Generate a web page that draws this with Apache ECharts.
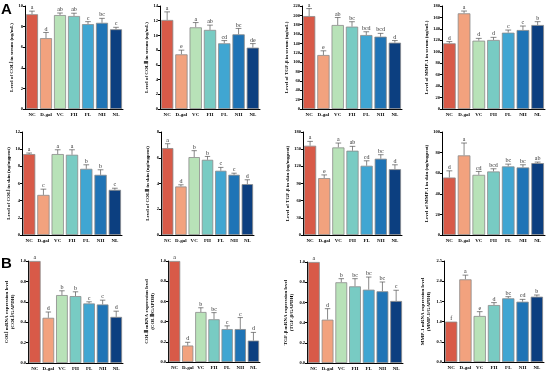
<!DOCTYPE html>
<html><head><meta charset="utf-8">
<script src="https://cdn.jsdelivr.net/npm/echarts@6/dist/echarts.min.js"></script>
<style>html,body{margin:0;padding:0;background:#fff}#c{width:550px;height:374px}</style>
</head><body><div id="c"></div>
<script>
const categories = ['NC','D-gal','VC','FH','FL','NH','NL'];
const barColors = ['#d85a48','#f2a27e','#b8e2b8','#78cbc3','#40a6d2','#1f74b6','#0c3f80'];

// Row A1: serum
const colISerum = [9.2, 6.88, 9.12, 9.03, 8.24, 8.37, 7.74];
const colISerumErr = [0.3, 0.55, 0.2, 0.27, 0.24, 0.43, 0.19];
const colISerumSig = ['a','d','ab','ab','c','bc','c'];

const colIIISerum = [12.1, 7.43, 11.1, 10.75, 8.93, 10.15, 8.34];
const colIIISerumErr = [1.1, 0.57, 0.65, 0.65, 0.37, 0.8, 0.55];
const colIIISerumSig = ['a','e','a','ab','cd','bc','de'];

const tgfSerum = [198.5, 115.3, 179.4, 175.9, 158, 154.5, 141.7];
const tgfSerumErr = [16, 9, 16, 10.5, 7, 7, 4.5];
const tgfSerumSig = ['a','e','ab','bc','bcd','bcd','d'];

const mmpSerum = [114.8, 167.2, 119.4, 120.6, 133.4, 138, 146.8];
const mmpSerumErr = [3, 4, 4, 4.6, 4.6, 7, 5.8];
const mmpSerumSig = ['d','a','d','d','c','c','b'];

// Row A2: skin
const colISkin = [9.43, 4.67, 9.43, 9.35, 7.71, 7.01, 5.26];
const colISkinErr = [0.12, 0.67, 0.5, 0.58, 0.47, 0.59, 0.19];
const colISkinSig = ['a','c','a','a','b','b','c'];

const colIIISkin = [6.75, 3.77, 6.05, 5.84, 4.99, 4.68, 3.95];
const colIIISkinErr = [0.34, 0.13, 0.5, 0.26, 0.26, 0.12, 0.34];
const colIIISkinSig = ['a','d','b','b','c','c','d'];

const tgfSkin = [156, 99.4, 153, 147.3, 121, 133.3, 115];
const tgfSkinErr = [7.6, 5.6, 7.7, 7.6, 8.7, 7, 7.7];
const tgfSkinSig = ['a','e','a','ab','cd','bc','d'];

const mmpSkin = [55.8, 77.3, 58.4, 61.7, 66.6, 65.6, 69.8];
const mmpSkinErr = [6.5, 12, 3.3, 2.6, 2.2, 2.6, 1];
const mmpSkinSig = ['d','a','cd','bcd','bc','bc','ab'];

// Row B: mRNA
const colIMrna = [1.0, 0.443, 0.666, 0.656, 0.584, 0.574, 0.452];
const colIMrnaErr = [0, 0.057, 0.042, 0.042, 0.016, 0.042, 0.056];
const colIMrnaSig = ['a','d','b','b','c','c','d'];

const colIIIMrna = [1.0, 0.163, 0.495, 0.423, 0.326, 0.326, 0.212];
const colIIIMrnaErr = [0, 0.032, 0.042, 0.066, 0.032, 0.114, 0.081];
const colIIIMrnaSig = ['a','d','b','bc','c','c','d'];

const tgfMrna = [1.0, 0.429, 0.799, 0.759, 0.726, 0.71, 0.614];
const tgfMrnaErr = [0, 0.109, 0.036, 0.076, 0.125, 0.092, 0.106];
const tgfMrnaSig = ['a','d','b','bc','bc','bc','c'];

const mmpMrna = [1.0, 2.046, 1.139, 1.41, 1.576, 1.493, 1.617];
const mmpMrnaErr = [0, 0.104, 0.107, 0.06, 0.041, 0.057, 0.041];
const mmpMrnaSig = ['f','a','e','d','bc','cd','b'];

const yNames = [
 'Level of COLⅠ in serum (ng/mL)','Level of COLⅢ in serum (ng/mL)','Level of TGF-β in serum (ng/mL)','Level of MMP-1 in serum (ng/mL)',
 'Level of COLⅠ in skin (ng/mgprot)','Level of COLⅢ in skin (ng/mgprot)','Level of TGF-β in skin (ng/mgprot)','Level of MMP-1 in skin (ng/mgprot)',
 'COLⅠ mRNA expression level\n(COLⅠ/GAPDH)','COLⅢ mRNA expression level\n(COLⅢ/GAPDH)','TGF-β mRNA expression level\n(TGF-β/GAPDH)','MMP-1 mRNA expression level\n(MMP-1/GAPDH)'
];

const panels = [
 {v:colISerum,e:colISerumErr,s:colISerumSig,max:10,int:2,g:[25,6,98,103],dec:0},
 {v:colIIISerum,e:colIIISerumErr,s:colIIISerumSig,max:14,int:2,g:[160,6,100,103],dec:0},
 {v:tgfSerum,e:tgfSerumErr,s:tgfSerumSig,max:220,int:20,g:[302,6,100,103],dec:0},
 {v:mmpSerum,e:mmpSerumErr,s:mmpSerumSig,max:180,int:20,g:[442,6,103,103],dec:0},
 {v:colISkin,e:colISkinErr,s:colISkinSig,max:12,int:2,g:[22,132,100,103],dec:0},
 {v:colIIISkin,e:colIIISkinErr,s:colIIISkinSig,max:8,int:2,g:[161,132,93,103],dec:0},
 {v:tgfSkin,e:tgfSkinErr,s:tgfSkinSig,max:180,int:30,g:[303,132,99,103],dec:0},
 {v:mmpSkin,e:mmpSkinErr,s:mmpSkinSig,max:100,int:20,g:[442,132,103,103],dec:0},
 {v:colIMrna,e:colIMrnaErr,s:colIMrnaSig,max:1,int:0.2,g:[28,261,95,102],dec:1},
 {v:colIIIMrna,e:colIIIMrnaErr,s:colIIIMrnaSig,max:1,int:0.2,g:[168,261,92,101],dec:1},
 {v:tgfMrna,e:tgfMrnaErr,s:tgfMrnaSig,max:1,int:0.2,g:[307,262,96,101],dec:1},
 {v:mmpMrna,e:mmpMrnaErr,s:mmpMrnaSig,max:2.5,int:0.5,g:[444,261,100,101],dec:1}
];

const FONT = 'Liberation Serif';
const grid=[], xAxis=[], yAxis=[], series=[];
panels.forEach((p,i)=>{
  grid.push({left:p.g[0],top:p.g[1],width:p.g[2],height:p.g[3]});
  xAxis.push({type:'category',gridIndex:i,data:categories,
    axisLine:{lineStyle:{color:'#000',width:1}},
    axisTick:{alignWithLabel:true,length:2,lineStyle:{color:'#000'}},
    axisLabel:{fontSize:5,fontWeight:'bold',fontFamily:FONT,color:'#000',margin:3,interval:0}});
  yAxis.push({type:'value',gridIndex:i,min:0,max:p.max,interval:p.int,
    name:yNames[i],nameLocation:'middle',nameGap:(i>=8?12:10),
    nameTextStyle:{fontSize:5,fontWeight:'bold',fontFamily:FONT,color:'#000',lineHeight:6},
    axisLine:{show:true,lineStyle:{color:'#000',width:1}},
    axisTick:{show:true,length:2,lineStyle:{color:'#000'}},
    splitLine:{show:false},
    axisLabel:{fontSize:4.5,fontWeight:'bold',fontFamily:FONT,color:'#000',margin:2,
      formatter:v=>p.dec?v.toFixed(1):String(v)}});
  series.push({type:'bar',xAxisIndex:i,yAxisIndex:i,barCategoryGap:'14%',
    data:p.v.map((val,k)=>({value:val,itemStyle:{color:barColors[k]}})),
    itemStyle:{borderColor:'#8a8a8a',borderWidth:0.8},animation:false});
  series.push({type:'custom',xAxisIndex:i,yAxisIndex:i,animation:false,
    data:p.v.map((val,k)=>[k,val,p.e[k]]),
    renderItem:(params,api)=>{
      const k=api.value(0), m=api.value(1), er=api.value(2);
      const b=api.coord([k,m]), t=api.coord([k,m+er]);
      const half=api.size([1,0])[0]*0.2;
      const ch=[];
      if(er>0){
        ch.push({type:'line',shape:{x1:b[0],y1:b[1],x2:t[0],y2:t[1]},style:{stroke:'#555',lineWidth:0.7}});
        ch.push({type:'line',shape:{x1:t[0]-half,y1:t[1],x2:t[0]+half,y2:t[1]},style:{stroke:'#555',lineWidth:0.7}});
      }
      ch.push({type:'text',style:{text:p.s[params.dataIndex],x:t[0],y:t[1]-0.5,align:'center',verticalAlign:'bottom',
        fontSize:6,fontFamily:FONT,fill:'#333'}});
      return {type:'group',children:ch};
    }});
});

const chart = echarts.init(document.getElementById('c'),null,{renderer:'canvas'});
chart.setOption({animation:false,backgroundColor:'#fff',grid,xAxis,yAxis,series,
  graphic:[
    {type:'text',left:1,top:2,style:{text:'A',fontSize:15,fontWeight:'bold',fontFamily:'Liberation Sans',fill:'#000'}},
    {type:'text',left:1,top:256,style:{text:'B',fontSize:15,fontWeight:'bold',fontFamily:'Liberation Sans',fill:'#000'}}
  ]});
</script></body></html>
